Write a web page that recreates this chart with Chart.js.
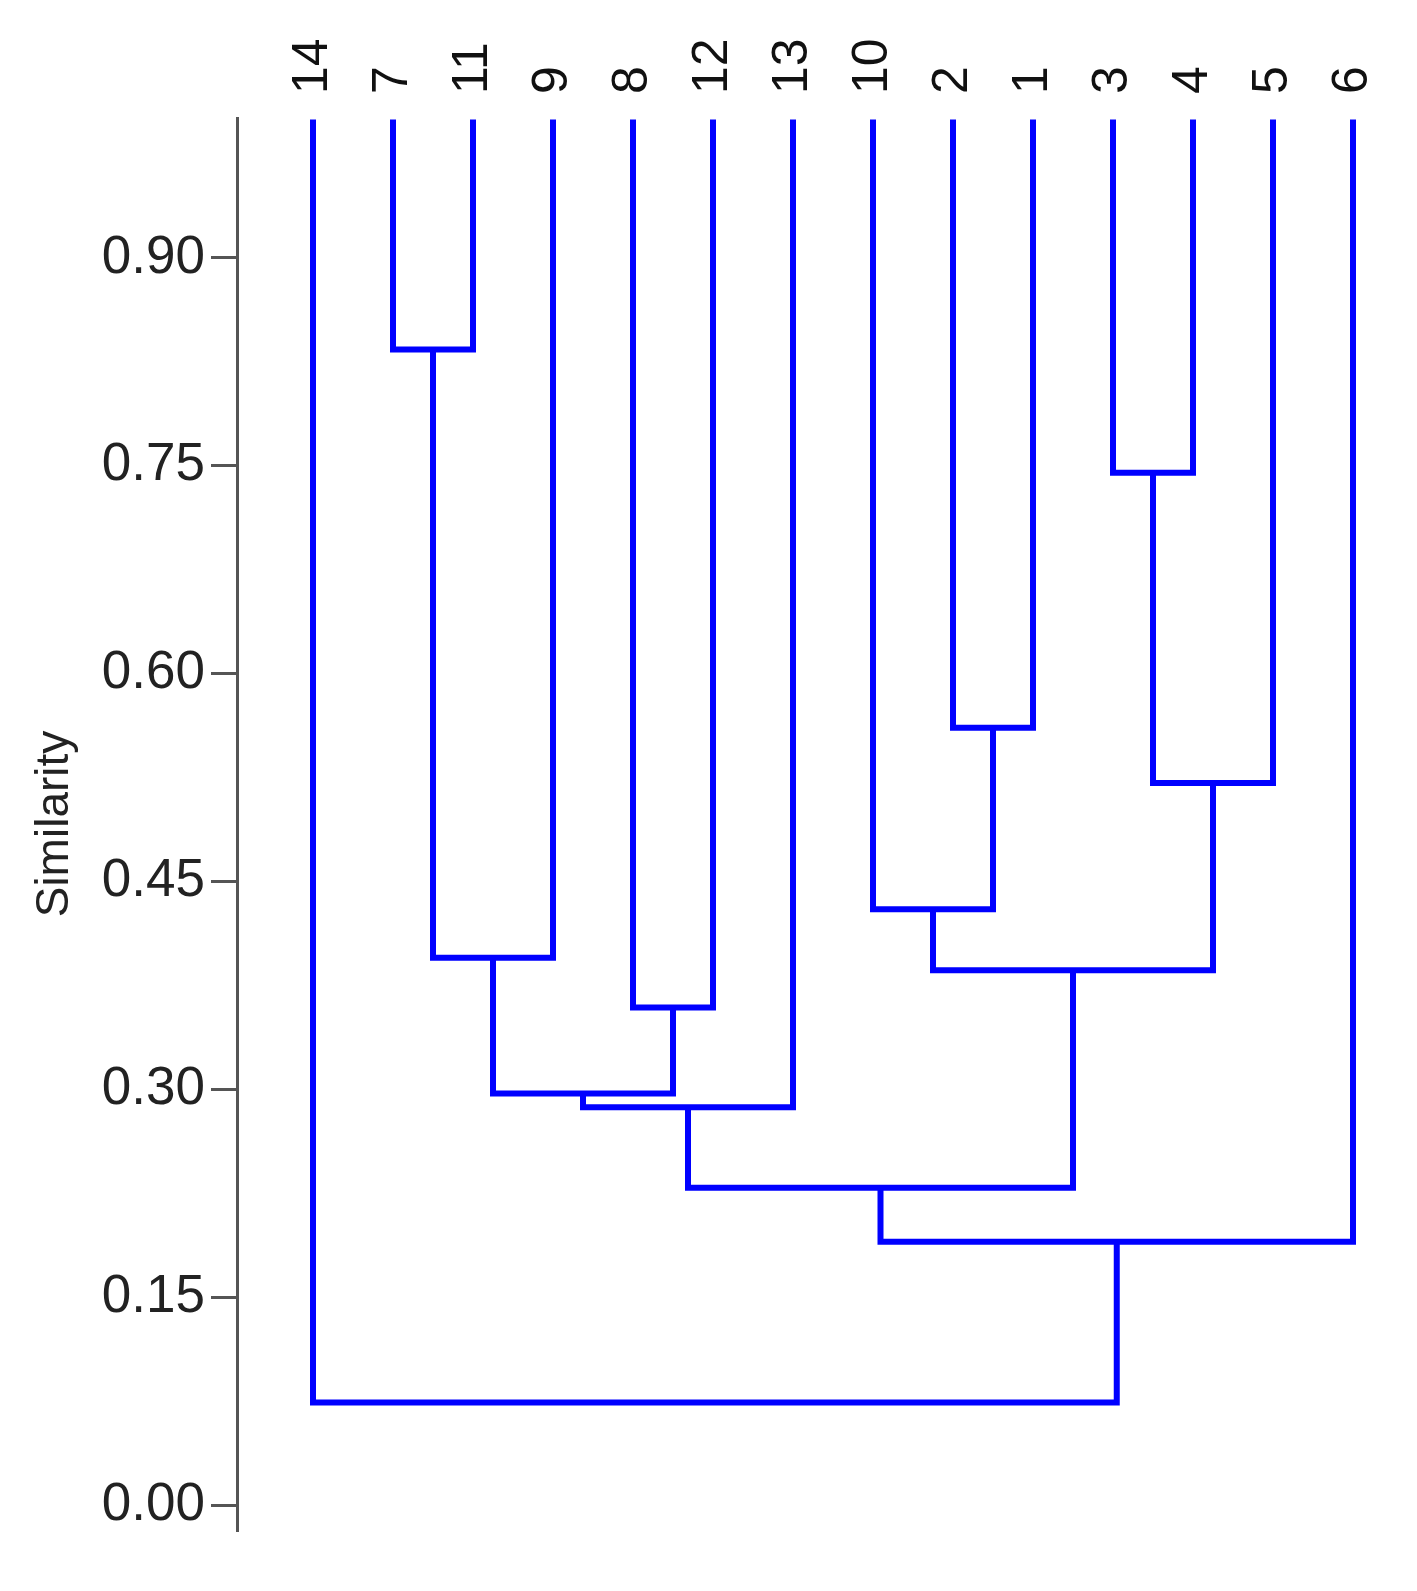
<!DOCTYPE html>
<html><head><meta charset="utf-8">
<script src="https://cdn.jsdelivr.net/npm/chart.js@4/dist/chart.umd.min.js"></script>
<style>html,body{margin:0;background:#fff}#w{width:1417px;height:1591px}</style>
</head><body><div id="w"><canvas id="c"></canvas></div>
<script>
const leafLabels = ["14","7","11","9","8","12","13","10","2","1","3","4","5","6"];
const leafHeight = 1.0;
// merges: [leftNode, rightNode, similarity]; nodes: "L<i>" leaf index, "M<j>" merge index
const mergeLeft  = ["L1","L10","L8","L12","M0","L7","L4","M5","M4","M8","M9","M10","L0"];
const mergeRight = ["L2","L11","L9","M1","L3","M2","L5","M3","M6","L6","M7","L13","M11"];
const mergeSim   = [0.834,0.745,0.561,0.521,0.395,0.430,0.359,0.386,0.297,0.287,0.229,0.190,0.074];
const yTicks = [0,0.15,0.30,0.45,0.60,0.75,0.90];

const pos = {};
leafLabels.forEach((l,i)=>pos["L"+i]={x:i,y:leafHeight});
const datasets=[];
mergeSim.forEach((s,j)=>{
  const a=pos[mergeLeft[j]], b=pos[mergeRight[j]];
  datasets.push({data:[{x:a.x,y:a.y},{x:a.x,y:s},{x:b.x,y:s},{x:b.x,y:b.y}],
    borderColor:'#0000ff',borderWidth:6,pointRadius:0,fill:false,tension:0,borderCapStyle:'butt',borderJoinStyle:'miter'});
  pos["M"+j]={x:(a.x+b.x)/2,y:s};
});

const leafLabelPlugin={id:'leafLabels',afterDraw(ch){
  const ctx=ch.ctx, xs=ch.scales.x;
  ctx.save();ctx.fillStyle='#111';ctx.font='50px "Liberation Sans", Arial, sans-serif';
  ctx.textAlign='left';ctx.textBaseline='middle';
  leafLabels.forEach((l,i)=>{
    ctx.save();ctx.translate(xs.getPixelForValue(i),94);ctx.rotate(-Math.PI/2);ctx.fillText(l,0,0);ctx.restore();
  });
  ctx.restore();
}};

new Chart(document.getElementById('c'),{
  type:'line',
  data:{datasets},
  plugins:[leafLabelPlugin],
  options:{
    responsive:true,maintainAspectRatio:false,animation:false,
    layout:{padding:{top:118,right:32,bottom:61,left:0}},
    plugins:{legend:{display:false},tooltip:{enabled:false}},
    scales:{
      x:{type:'linear',display:false,min:-0.95,max:13.4},
      y:{type:'linear',min:-0.018,max:1.001,
        afterBuildTicks(s){s.ticks=yTicks.map(v=>({value:v}));},
        afterFit(s){s.width=237;},
        border:{display:true,color:'#555',width:3},
        grid:{drawOnChartArea:false,tickLength:26,color:'#555',lineWidth:3},
        ticks:{padding:6,color:'#222',font:{size:53,family:'"Liberation Sans", Arial, sans-serif'},
          callback:v=>v.toFixed(2)},
        title:{display:true,text:'Similarity',color:'#222',font:{size:46,family:'"Liberation Sans", Arial, sans-serif'},padding:{top:28,bottom:0}}
      }
    }
  }
});
</script></body></html>
